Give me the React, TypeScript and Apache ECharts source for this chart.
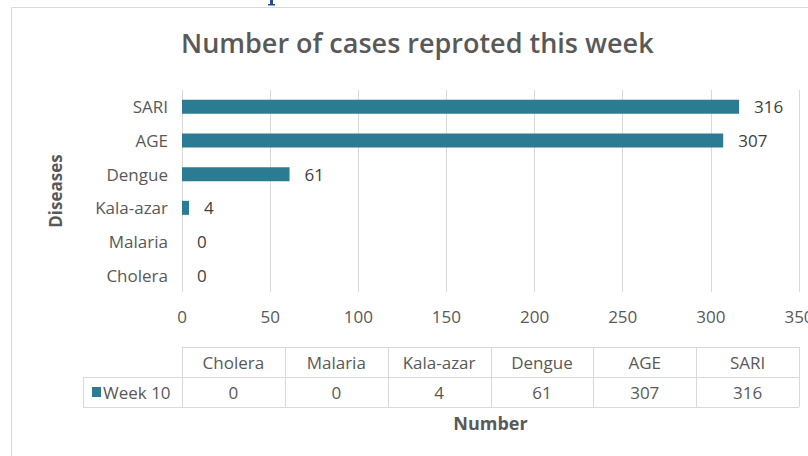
import React, { useEffect, useRef } from "react";
import * as echarts from "echarts";

const categories = ["Cholera", "Malaria", "Kala-azar", "Dengue", "AGE", "SARI"];
const week10 = [0, 0, 4, 61, 307, 316];
const seriesName = "Week 10";
const xTicks = { min: 0, max: 350, interval: 50 };
const titleText = "Number of cases reproted this week";
const xName = "Number";
const yName = "Diseases";

const FONT = "'Open Sans', 'Noto Sans', sans-serif";
const BAR = "#2b7b93";
const GRAYTXT = "#595959";
const LINE = "#d9d9d9";

export default function App() {
  const ref = useRef<HTMLDivElement>(null);
  useEffect(() => {
    if (!ref.current) return;
    document.body.style.margin = "0";
    document.body.style.overflow = "hidden";
    const chart = echarts.init(ref.current, undefined, { renderer: "svg", width: 808, height: 456 });
    const gridLeft = 182;
    const gridTop = 90;
    const gridW = 617;
    const gridH = 202;
    chart.setOption({
      animation: false,
      backgroundColor: "#ffffff",
      textStyle: { fontFamily: FONT },
      title: {
        text: titleText,
        left: 176,
        top: 24,
        textStyle: { fontFamily: FONT, fontSize: 27, fontWeight: 600, color: GRAYTXT },
      },
      grid: {
        left: gridLeft,
        top: gridTop,
        width: gridW,
        height: gridH,
        containLabel: false,
        outerBoundsMode: "none",
      },
      xAxis: {
        type: "value",
        min: xTicks.min,
        max: xTicks.max,
        interval: xTicks.interval,
        name: xName,
        nameLocation: "middle",
        nameGap: 122,
        nameTextStyle: { fontFamily: FONT, fontSize: 18, fontWeight: "bold", color: GRAYTXT },
        axisLine: { show: false },
        axisTick: { show: false },
        axisLabel: { fontFamily: FONT, fontSize: 17, color: GRAYTXT, margin: 16, hideOverlap: false },
        splitLine: { show: true, lineStyle: { color: LINE, width: 1 } },
      },
      yAxis: {
        type: "category",
        data: categories,
        name: yName,
        nameLocation: "middle",
        nameGap: 118,
        nameTextStyle: { fontFamily: FONT, fontSize: 17, fontWeight: "bold", color: GRAYTXT },
        axisLine: { show: false },
        axisTick: { show: false },
        axisLabel: { fontFamily: FONT, fontSize: 17, color: GRAYTXT, margin: 14 },
      },
      series: [
        {
          type: "bar",
          name: seriesName,
          data: week10,
          barWidth: 14,
          itemStyle: { color: BAR },
          label: {
            show: true,
            position: "right",
            distance: 15,
            fontFamily: FONT,
            fontSize: 17,
            color: "#404040",
          },
        },
      ],
    });

    // data table below the chart, columns aligned with the value axis extent
    const x0 = chart.convertToPixel({ xAxisIndex: 0 }, xTicks.min) as number;
    const x1 = chart.convertToPixel({ xAxisIndex: 0 }, xTicks.max) as number;
    const colW = (x1 - x0) / categories.length;
    const tTop = 347;
    const rowH = 30;
    const labelLeft = 83;
    const els: any[] = [];
    const ln = (ax: number, ay: number, bx: number, by: number) =>
      els.push({
        type: "line",
        shape: { x1: ax, y1: ay, x2: bx, y2: by },
        style: { stroke: LINE, lineWidth: 1 },
        silent: true,
      });
    ln(x0, tTop + 0.5, x1, tTop + 0.5);
    ln(labelLeft, tTop + rowH + 0.5, x1, tTop + rowH + 0.5);
    ln(labelLeft, tTop + 2 * rowH + 0.5, x1, tTop + 2 * rowH + 0.5);
    ln(labelLeft + 0.5, tTop + rowH, labelLeft + 0.5, tTop + 2 * rowH);
    for (let i = 0; i <= categories.length; i++) {
      const cx = Math.round(x0 + i * colW) + 0.5;
      ln(cx, tTop, cx, tTop + 2 * rowH);
    }
    categories.forEach((c, i) => {
      const cx = x0 + (i + 0.5) * colW;
      els.push({
        type: "text",
        x: cx,
        y: tTop + rowH / 2,
        style: { text: c, fontFamily: FONT, fontSize: 17, fill: GRAYTXT, align: "center", verticalAlign: "middle" },
      });
      els.push({
        type: "text",
        x: cx,
        y: tTop + rowH * 1.5,
        style: { text: String(week10[i]), fontFamily: FONT, fontSize: 17, fill: GRAYTXT, align: "center", verticalAlign: "middle" },
      });
    });
    els.push({
      type: "rect",
      shape: { x: 92, y: tTop + rowH + 10, width: 9, height: 10 },
      style: { fill: BAR },
    });
    els.push({
      type: "text",
      x: 103,
      y: tTop + rowH * 1.5,
      style: { text: seriesName, fontFamily: FONT, fontSize: 17, fill: GRAYTXT, align: "left", verticalAlign: "middle" },
    });
    // outer frame of the chart area
    els.push({
      type: "rect",
      shape: { x: 11.5, y: 7.5, width: 900, height: 600 },
      style: { fill: "none", stroke: LINE, lineWidth: 1 },
      silent: true,
    });
    // clipped fragment of a page heading above the frame
    els.push({ type: "rect", shape: { x: 270, y: 0, width: 3, height: 5 }, style: { fill: "#1f4e96" }, silent: true });
    els.push({ type: "rect", shape: { x: 268, y: 4, width: 7, height: 1.5 }, style: { fill: "#1f4e96" }, silent: true });
    chart.setOption({ graphic: { elements: els } });

    return () => chart.dispose();
  }, []);
  return (
    <div
      ref={ref}
      style={{ position: "absolute", left: 0, top: 0, width: 808, height: 456 }}
    />
  );
}
